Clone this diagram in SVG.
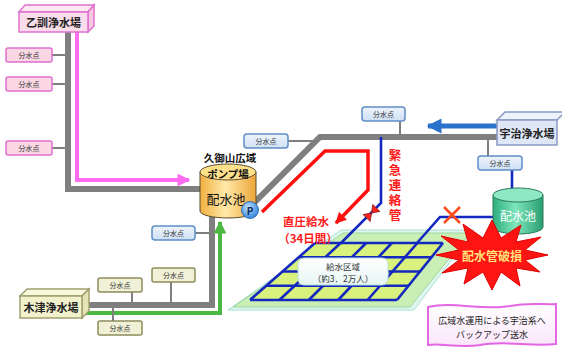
<svg xmlns="http://www.w3.org/2000/svg" width="562" height="347" viewBox="0 0 562 347">
  <defs>
    <style>
      text { font-family: "Noto Sans CJK JP", "Noto Sans", sans-serif; text-anchor: middle; dominant-baseline: central; }
      .bp { font-size: 7px; fill: #333; }
      .pt-pink { fill: #fbd7e4; stroke: #e070d0; stroke-width: 1.5; }
      .pt-blue { fill: url(#gBlueBox); stroke: #5f8fc6; stroke-width: 1.5; }
      .pt-olive { fill: #f1f1d8; stroke: #8c8c5c; stroke-width: 1.5; }
      .gray { fill: none; stroke: #7f7f7f; stroke-width: 6; stroke-linejoin: miter; }
      .tap { fill: none; stroke: #7f7f7f; stroke-width: 2; }
      .blue { fill: none; stroke: #1428c0; stroke-width: 2.6; stroke-linejoin: miter; }
      .plant { font-size: 11px; font-weight: bold; fill: #222; }
      .red-t { font-weight: bold; fill: #ff1a1a; }
      .vert { writing-mode: vertical-rl; text-anchor: start; }
    </style>
    <linearGradient id="gBlueBox" x1="0" y1="0" x2="0" y2="1">
      <stop offset="0" stop-color="#eef4fc"/>
      <stop offset="1" stop-color="#cfe0f4"/>
    </linearGradient>
    <linearGradient id="gTank" x1="0" y1="0" x2="1" y2="0">
      <stop offset="0" stop-color="#f2b040"/>
      <stop offset="0.45" stop-color="#ffe9a8"/>
      <stop offset="1" stop-color="#eea53a"/>
    </linearGradient>
    <linearGradient id="gTank2" x1="0" y1="0" x2="1" y2="0">
      <stop offset="0" stop-color="#2fae7c"/>
      <stop offset="0.45" stop-color="#7ee6bc"/>
      <stop offset="1" stop-color="#2a9e70"/>
    </linearGradient>
    <radialGradient id="gP" cx="0.4" cy="0.35" r="0.7">
      <stop offset="0" stop-color="#bfe0ff"/>
      <stop offset="1" stop-color="#2a7fd8"/>
    </radialGradient>
    <linearGradient id="gLabel" x1="0" y1="0" x2="0" y2="1">
      <stop offset="0" stop-color="#ffffff"/>
      <stop offset="1" stop-color="#e6f6f4"/>
    </linearGradient>
    <linearGradient id="gNote" x1="0" y1="0" x2="0" y2="1">
      <stop offset="0" stop-color="#ffffff"/>
      <stop offset="1" stop-color="#fbe6fb"/>
    </linearGradient>
    <marker id="mPink" viewBox="0 0 10 10" refX="9" refY="5" markerWidth="3.2" markerHeight="3.2" orient="auto" markerUnits="strokeWidth">
      <path d="M0,0 L10,5 L0,10 Z" fill="#ff6cf0"/>
    </marker>
    <marker id="mGreen" viewBox="0 0 10 10" refX="9" refY="5" markerWidth="3.2" markerHeight="3.2" orient="auto" markerUnits="strokeWidth">
      <path d="M0,0 L10,5 L0,10 Z" fill="#4cb844"/>
    </marker>
    <marker id="mRed" viewBox="0 0 10 10" refX="9" refY="5" markerWidth="3.2" markerHeight="3.2" orient="auto" markerUnits="strokeWidth">
      <path d="M0,0 L10,5 L0,10 Z" fill="#ff1010"/>
    </marker>
    <marker id="mBlue" viewBox="0 0 10 10" refX="9" refY="5" markerWidth="3" markerHeight="3" orient="auto" markerUnits="strokeWidth">
      <path d="M0,0 L10,5 L0,10 Z" fill="#2a72cc"/>
    </marker>
  </defs>

  <rect width="562" height="347" fill="#ffffff"/>

  <!-- supply zone: ground plate and street grid -->
  <g id="supply-zone">
    <polygon points="228,310 341,230 474,230 414,310" fill="#dff6ee" stroke="#a8e0d0" stroke-width="1"/>
    <polygon points="233,307 343,233 470,233 410,307" fill="#c9efb4" stroke="#9ed6a0" stroke-width="1"/>
    <polygon points="315,243 443,243 397,300 250,300" fill="#d9f27e"/>
    <g class="blue" stroke-width="2.4">
      <line x1="315" y1="243" x2="443" y2="243"/>
      <line x1="298.8" y1="257.3" x2="431.5" y2="257.3"/>
      <line x1="282.5" y1="271.5" x2="420" y2="271.5"/>
      <line x1="266.3" y1="285.8" x2="408.5" y2="285.8"/>
      <line x1="250" y1="300" x2="397" y2="300"/>
      <line x1="315" y1="243" x2="250" y2="300"/>
      <line x1="340.6" y1="243" x2="279.4" y2="300"/>
      <line x1="366.2" y1="243" x2="308.8" y2="300"/>
      <line x1="391.8" y1="243" x2="338.2" y2="300"/>
      <line x1="417.4" y1="243" x2="367.6" y2="300"/>
      <line x1="443" y1="243" x2="397" y2="300"/>
    </g>
    <rect x="298" y="258" width="90" height="27" rx="6" fill="url(#gLabel)" stroke="#b8dcd8" stroke-width="1"/>
    <text x="343" y="265.5" font-size="8.5" fill="#333">給水区域</text>
    <text x="343" y="278" font-size="8.5" fill="#333">（約3．2万人）</text>
  </g>

  <!-- pipes -->
  <g id="connectors">
    <!-- Otokuni line -->
    <polyline class="gray" points="68,32 68,189 201,189"/>
    <polyline points="77,32 77,180 189,180" fill="none" stroke="#ff6cf0" stroke-width="4" marker-end="url(#mPink)"/>
    <line class="tap" x1="52" y1="55" x2="68" y2="55"/>
    <line class="tap" x1="52" y1="84" x2="68" y2="84"/>
    <line class="tap" x1="52" y1="148" x2="68" y2="148"/>

    <!-- Kizu line -->
    <polyline class="gray" points="88,305 212,305 212,212"/>
    <polyline points="85,313 220,313 220,222" fill="none" stroke="#4cb844" stroke-width="4" marker-end="url(#mGreen)"/>
    <line class="tap" x1="132" y1="292" x2="132" y2="305"/>
    <line class="tap" x1="171" y1="282" x2="171" y2="305"/>
    <line class="tap" x1="113" y1="321" x2="113" y2="305"/>
    <line class="tap" x1="195" y1="233" x2="212" y2="233"/>

    <!-- Kumiyama - Uji trunk -->
    <polyline class="gray" points="254,203 320,137 498,137"/>
    <line class="tap" x1="288" y1="141" x2="316" y2="141"/>
    <line class="tap" x1="400" y1="121" x2="400" y2="137"/>
    <line class="tap" x1="488" y1="137" x2="488" y2="156"/>

    <!-- Uji backup flow -->
    <line x1="497" y1="126" x2="428" y2="126" stroke="#2a72cc" stroke-width="5" marker-end="url(#mBlue)"/>

    <!-- direct pressure supply -->
    <polyline points="262,212 325,151 368,151 368,190 336,223" fill="none" stroke="#ff1010" stroke-width="3.5" stroke-linejoin="miter" marker-end="url(#mRed)"/>

    <!-- emergency link pipe -->
    <polyline class="blue" points="381,137 381,203 341,243"/>
    <!-- local reservoir feed -->
    <polyline class="blue" points="512,170 512,190"/>
    <polyline class="blue" points="494,217 440,217 417,243"/>

    <!-- valve on the emergency link -->
    <g transform="translate(371.5,213) rotate(134)">
      <polygon points="-7,-5 0,0 -7,5" fill="#ff2020" stroke="#802020" stroke-width="0.8"/>
      <polygon points="7,-5 0,0 7,5" fill="#ff2020" stroke="#802020" stroke-width="0.8"/>
    </g>
    <!-- broken main mark -->
    <g stroke="#ff4a1a" stroke-width="2.5">
      <line x1="444" y1="207" x2="460" y2="223"/>
      <line x1="460" y1="207" x2="444" y2="223"/>
    </g>
  </g>

  <!-- water treatment plants -->
  <g id="plant-otokuni">
    <polygon points="19,12 25,5 94,5 88,12" fill="#fde8f2" stroke="#e070d0" stroke-width="1.5"/>
    <polygon points="88,12 94,5 94,26 88,32" fill="#f6c8e2" stroke="#e070d0" stroke-width="1.5"/>
    <rect x="19" y="12" width="69" height="20" fill="#fbdcea" stroke="#e070d0" stroke-width="1.5"/>
    <text class="plant" x="53.5" y="22">乙訓浄水場</text>
  </g>
  <g id="plant-uji">
    <polygon points="497,120 505,112 565,112 557,120" fill="#eef2fb" stroke="#8a98c4" stroke-width="1.5"/>
    <rect x="497" y="120" width="60" height="25" fill="#dfe6f6" stroke="#8a98c4" stroke-width="1.5"/>
    <text class="plant" x="527" y="132.5">宇治浄水場</text>
  </g>
  <g id="plant-kizu">
    <polygon points="20,296 27,289 89,289 82,296" fill="#f8f8dc" stroke="#a0a070" stroke-width="1.5"/>
    <polygon points="82,296 89,289 89,311 82,318" fill="#e4e4b8" stroke="#a0a070" stroke-width="1.5"/>
    <rect x="20" y="296" width="62" height="22" fill="#f1f1cc" stroke="#a0a070" stroke-width="1.5"/>
    <text class="plant" x="51" y="307">木津浄水場</text>
  </g>

  <!-- branch points -->
  <g id="bp-o1"><rect class="pt-pink" x="6" y="48" width="46" height="14" rx="2"/><text class="bp" x="29" y="55">分水点</text></g>
  <g id="bp-o2"><rect class="pt-pink" x="6" y="77" width="46" height="14" rx="2"/><text class="bp" x="29" y="84">分水点</text></g>
  <g id="bp-o3"><rect class="pt-pink" x="6" y="141" width="46" height="14" rx="2"/><text class="bp" x="29" y="148">分水点</text></g>
  <g id="bp-k1"><rect class="pt-blue" x="152" y="226" width="43" height="14" rx="3"/><text class="bp" x="173.5" y="233">分水点</text></g>
  <g id="bp-k2"><rect class="pt-olive" x="152" y="268" width="43" height="14" rx="2"/><text class="bp" x="173.5" y="275">分水点</text></g>
  <g id="bp-k3"><rect class="pt-olive" x="98" y="278" width="44" height="14" rx="2"/><text class="bp" x="120" y="285">分水点</text></g>
  <g id="bp-k4"><rect class="pt-olive" x="98" y="321" width="44" height="14" rx="2"/><text class="bp" x="120" y="328">分水点</text></g>
  <g id="bp-t1"><rect class="pt-blue" x="244" y="134" width="44" height="14" rx="3"/><text class="bp" x="266" y="141">分水点</text></g>
  <g id="bp-t2"><rect class="pt-blue" x="362" y="107" width="43" height="14" rx="3"/><text class="bp" x="383.5" y="114">分水点</text></g>
  <g id="bp-u1"><rect class="pt-blue" x="478" y="156" width="44" height="14" rx="3"/><text class="bp" x="500" y="163">分水点</text></g>

  <!-- Kumiyama wide-area pump station -->
  <g id="pump-station">
    <path d="M200,172 V211 A28,7 0 0 0 256,211 V172 Z" fill="url(#gTank)" stroke="#5a4a30" stroke-width="1"/>
    <ellipse cx="228" cy="172" rx="28" ry="8" fill="#ffe08a" stroke="#5a4a30" stroke-width="1"/>
    <text x="230" y="157" font-size="10.5" font-weight="bold" fill="#111">久御山広域</text>
    <text x="228" y="173" font-size="10.5" font-weight="bold" fill="#111">ポンプ場</text>
    <text x="226" y="198.5" font-size="13" fill="#111">配水池</text>
    <circle cx="250" cy="210" r="8.5" fill="url(#gP)" stroke="#1c5aa8" stroke-width="0.8"/>
    <text x="250" y="210.5" font-size="10" font-weight="bold" fill="#0c2a5a">P</text>
  </g>

  <!-- Uji-side reservoir -->
  <g id="reservoir-uji">
    <path d="M493,195 V227 A25,7 0 0 0 543,227 V195 Z" fill="url(#gTank2)" stroke="#2a7a5c" stroke-width="1"/>
    <ellipse cx="518" cy="195" rx="25" ry="7" fill="#8ee8c4" stroke="#2a7a5c" stroke-width="1"/>
    <text x="518" y="215" font-size="12" fill="#ffffff">配水池</text>
  </g>

  <!-- labels -->
  <g id="label-direct">
    <text class="red-t" x="306" y="220.5" font-size="11.5">直圧給水</text>
    <text class="red-t" x="308" y="237.5" font-size="11.5">（34日間）</text>
  </g>
  <g id="label-emergency">
    <text class="red-t vert" x="395" y="149" font-size="12.5" letter-spacing="2.5">緊急連絡管</text>
  </g>

  <!-- pipe break burst -->
  <g id="break-burst">
    <polygon points="548,255 525,260 540,272 516,268 520,286 501,272 492,290 483,272 464,284 468,268 442,273 459,260 436,255 459,250 441,236 468,242 463,224 483,238 492,220 501,238 521,225 516,242 541,237 525,250" fill="#ff1414" stroke="#e00000" stroke-width="1"/>
    <text x="492" y="255.5" font-size="12" font-weight="bold" fill="#ffe27a">配水管破損</text>
  </g>

  <!-- backup note -->
  <g id="note-backup">
    <path d="M428,307 C455,301 480,311 510,306 C530,302 545,305 556,304 L556,344 C530,347 505,340 480,345 C460,348 440,343 428,345 Z" fill="url(#gNote)" stroke="#e466e4" stroke-width="2"/>
    <text x="492" y="320.5" font-size="9" fill="#222">広域水運用による宇治系へ</text>
    <text x="492" y="334" font-size="9" fill="#222">バックアップ送水</text>
  </g>
</svg>
